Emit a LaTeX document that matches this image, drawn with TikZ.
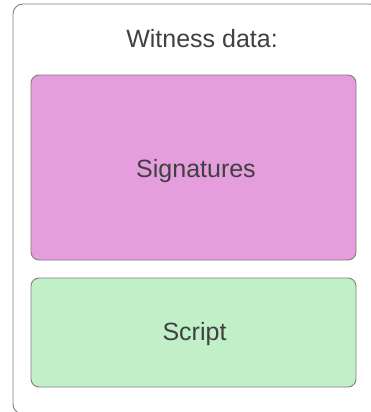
\documentclass[tikz,border=0pt]{standalone}
\usepackage{fontspec}
\setmainfont{Liberation Sans}
\definecolor{edge}{HTML}{7F7F7F}
\definecolor{pinkfill}{HTML}{E59EDD}
\definecolor{greenfill}{HTML}{C1F0C8}
\definecolor{txt}{HTML}{404040}
\tikzset{
  panel/.style={draw=edge, line width=0.9pt, rounded corners=10pt, inner sep=0pt, fill=white},
  box/.style={draw=edge, line width=0.9pt, rounded corners=8pt, inner sep=0pt, minimum width=325pt},
  lbl/.style={text=txt, font=\fontsize{25}{30}\selectfont, anchor=base, inner sep=0pt}
}
\begin{document}
\begin{tikzpicture}[x=1pt,y=-1pt]
\useasboundingbox (0,0) rectangle (371,412);
\clip (0,0) rectangle (371,412);
\node[panel, minimum width=367pt, minimum height=410pt] (outer) at (196.5,209) {};
\node[box, fill=pinkfill, minimum height=185pt] (sig) at (193.5,167.5) {};
\node[box, fill=greenfill, minimum height=109pt] (scr) at (193.5,332.5) {};
\node[lbl] (title) at (202,48) {Witness data:};
\node[lbl] (sigtxt) at (196,177) {Signatures};
\node[lbl] (scrtxt) at (194.5,340) {Script};
\end{tikzpicture}
\end{document}
